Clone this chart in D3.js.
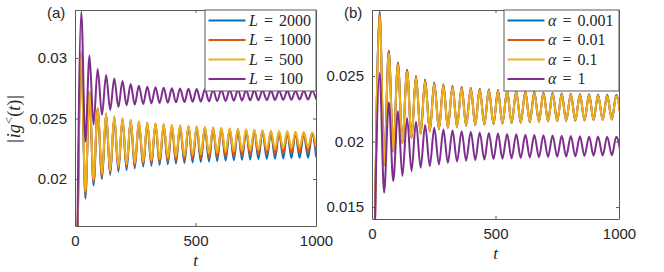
<html>
<head>
<script src="https://d3js.org/d3.v7.min.js"></script>
<style>
  body { margin: 0; background: #fff; }
  .tick text { font-family: "Liberation Sans", Arial, sans-serif; font-size: 15px; fill: #262626; }
  .math { font-family: "Liberation Serif", "DejaVu Serif", serif; fill: #262626; }
</style>
</head>
<body>
<svg id="fig" width="664" height="272"></svg>
<script>
const colors = ["#0072BD", "#D95319", "#EDB120", "#7E2F8E"];

// ---- panel (a): times of the extrema (start, then peak/trough alternating)
const tA = [8, 26, 43, 60, 77, 94, 112, 129, 146, 163, 180, 197, 214, 231, 248, 265, 283, 300, 317, 334,
  351, 368, 385, 402, 419, 436, 454, 471, 488, 505, 522, 539, 556, 573, 590, 607, 625, 642, 659, 676,
  693, 710, 727, 744, 761, 778, 796, 813, 830, 847, 864, 881, 898, 915, 932, 949, 967, 984, 1001];
const aLabels = ["2000", "1000", "500", "100"];
const aStart = [0.010, 0.010, 0.010, 0.012];
const aPeaks = [
  [0.0303, 0.02715, 0.0258, 0.02535, 0.0251, 0.02495, 0.02482, 0.02469, 0.0246, 0.02452, 0.02446, 0.02441, 0.02436, 0.02432, 0.02428,
   0.02424, 0.0242, 0.02416, 0.02412, 0.02408, 0.02404, 0.024, 0.02396, 0.02392, 0.02389, 0.02386, 0.02383, 0.0238, 0.02377],
  [0.0304, 0.0272, 0.02585, 0.0254, 0.02515, 0.025, 0.02486, 0.02473, 0.02464, 0.02456, 0.0245, 0.02445, 0.0244, 0.02436, 0.02432,
   0.02428, 0.02424, 0.0242, 0.02416, 0.02412, 0.02408, 0.02404, 0.024, 0.02396, 0.02393, 0.0239, 0.02387, 0.02384, 0.02381],
  [0.0305, 0.02725, 0.0259, 0.02545, 0.0252, 0.02504, 0.0249, 0.02477, 0.02468, 0.0246, 0.02454, 0.02449, 0.02444, 0.0244, 0.02436,
   0.02432, 0.02428, 0.02424, 0.0242, 0.02416, 0.02412, 0.02408, 0.02404, 0.024, 0.02397, 0.02394, 0.02391, 0.02388, 0.02385],
  [0.0338, 0.0302, 0.0291, 0.0286, 0.0283, 0.0281, 0.02785, 0.0277, 0.02763, 0.02758, 0.02754, 0.0275, 0.02748, 0.02746, 0.02744,
   0.02742, 0.0274, 0.02739, 0.02738, 0.02737, 0.02736, 0.02735, 0.02734, 0.02733, 0.02732, 0.02731, 0.0273, 0.0273, 0.02729]
];
const aTroughs = [
  [0.0184, 0.01948, 0.02, 0.02033, 0.0206, 0.02074, 0.02088, 0.02102, 0.0211, 0.02117, 0.02123, 0.02129, 0.02134, 0.02138, 0.02142,
   0.02146, 0.0215, 0.02153, 0.02156, 0.02159, 0.02162, 0.02164, 0.02166, 0.02168, 0.0217, 0.02172, 0.02174, 0.02176, 0.02178],
  [0.01868, 0.0197, 0.0202, 0.0205, 0.0208, 0.02097, 0.02107, 0.02122, 0.0213, 0.02138, 0.02145, 0.02152, 0.02158, 0.02163, 0.02168,
   0.02173, 0.02178, 0.02182, 0.02186, 0.0219, 0.02194, 0.02197, 0.022, 0.02203, 0.02206, 0.02209, 0.02212, 0.02215, 0.02218],
  [0.01895, 0.0199, 0.0204, 0.0207, 0.021, 0.0212, 0.0213, 0.02143, 0.02155, 0.02165, 0.02175, 0.02183, 0.0219, 0.02197, 0.02204,
   0.0221, 0.02216, 0.02222, 0.02227, 0.02232, 0.02236, 0.0224, 0.02244, 0.02248, 0.02252, 0.02256, 0.0226, 0.02263, 0.02266],
  [0.0231, 0.0245, 0.0253, 0.02573, 0.02595, 0.02609, 0.02615, 0.0262, 0.02625, 0.02628, 0.02631, 0.02634, 0.02636, 0.02638, 0.0264,
   0.02642, 0.02644, 0.02646, 0.02648, 0.0265, 0.02651, 0.02652, 0.02653, 0.02654, 0.02655, 0.02656, 0.02657, 0.02658, 0.02659]
];
const aYTicks = [0.02, 0.025, 0.03];
const aYTickLabels = ["0.02", "0.025", "0.03"];

// ---- panel (b)
const tB = [8, 31, 49, 68, 86, 105, 123, 142, 160, 178, 197, 215, 234, 252, 271, 289, 307, 326, 344, 363,
  381, 400, 418, 436, 455, 473, 492, 510, 528, 547, 565, 584, 602, 621, 639, 657, 676, 694, 713, 731,
  750, 768, 786, 805, 823, 842, 860, 879, 897, 915, 934, 952, 971, 989, 1008];
const bLabels = ["0.001", "0.01", "0.1", "1"];
const bStart = [0.008, 0.008, 0.008, 0.010];
const bPeaks = [
  [0.02992, 0.02692, 0.02602, 0.02547, 0.025, 0.02472, 0.0245, 0.02435, 0.02424, 0.02415, 0.02408, 0.02402, 0.02397, 0.02392,
   0.02388, 0.02384, 0.0238, 0.02377, 0.02374, 0.02371, 0.02368, 0.02365, 0.02362, 0.0236, 0.02358, 0.02356, 0.02354],
  [0.0299, 0.0269, 0.026, 0.02545, 0.02498, 0.0247, 0.02448, 0.02433, 0.02422, 0.02413, 0.02406, 0.024, 0.02395, 0.0239,
   0.02386, 0.02382, 0.02378, 0.02375, 0.02372, 0.02369, 0.02366, 0.02363, 0.0236, 0.02358, 0.02356, 0.02354, 0.02352],
  [0.0296, 0.0267, 0.02585, 0.02532, 0.02486, 0.0246, 0.02439, 0.02424, 0.02414, 0.02405, 0.02398, 0.02392, 0.02387, 0.02383,
   0.02379, 0.02375, 0.02371, 0.02368, 0.02365, 0.02362, 0.0236, 0.02357, 0.02354, 0.02352, 0.0235, 0.02348, 0.02346],
  [0.02523, 0.023, 0.02231, 0.0218, 0.0215, 0.02125, 0.02104, 0.02091, 0.02084, 0.02079, 0.02075, 0.02069, 0.02065, 0.02061,
   0.02058, 0.02055, 0.02052, 0.0205, 0.02048, 0.02046, 0.02044, 0.02042, 0.0204, 0.02039, 0.02038, 0.02037, 0.02036]
];
const bTroughs = [
  [0.01822, 0.01924, 0.01987, 0.02025, 0.02056, 0.02076, 0.02094, 0.02105, 0.02113, 0.0212, 0.02125, 0.02129, 0.02133, 0.02137,
   0.02141, 0.02144, 0.02147, 0.0215, 0.02153, 0.02155, 0.02157, 0.02159, 0.02161, 0.02163, 0.02165, 0.02167, 0.02169],
  [0.01823, 0.01925, 0.01988, 0.02026, 0.02057, 0.02077, 0.02095, 0.02106, 0.02114, 0.02121, 0.02126, 0.0213, 0.02134, 0.02138,
   0.02142, 0.02145, 0.02148, 0.02151, 0.02154, 0.02156, 0.02158, 0.0216, 0.02162, 0.02164, 0.02166, 0.02168, 0.0217],
  [0.01825, 0.01927, 0.0199, 0.02028, 0.02059, 0.02079, 0.02097, 0.02108, 0.02116, 0.02123, 0.02128, 0.02132, 0.02136, 0.0214,
   0.02144, 0.02147, 0.0215, 0.02153, 0.02156, 0.02158, 0.0216, 0.02162, 0.02164, 0.02166, 0.02168, 0.0217, 0.02172],
  [0.0161, 0.01699, 0.01737, 0.01774, 0.018, 0.01813, 0.01825, 0.01838, 0.01848, 0.01853, 0.01858, 0.01862, 0.01866, 0.01869,
   0.01872, 0.01875, 0.01878, 0.0188, 0.01882, 0.01884, 0.01886, 0.01888, 0.0189, 0.01892, 0.01894, 0.01896, 0.01898]
];
const bYTicks = [0.015, 0.02, 0.025];
const bYTickLabels = ["0.015", "0.02", "0.025"];

const xTicks = [0, 500, 1000];

const svg = d3.select("#fig");

// start value, then peak, trough, peak, ...
function assemble(t, start, peaks, troughs) {
  const vals = [start];
  for (let k = 0; k < peaks.length; k++) {
    vals.push(peaks[k]);
    if (k < troughs.length) vals.push(troughs[k]);
  }
  return t.map((tt, i) => [tt, vals[i]]);
}

function drawPanel(p) {
  const g = svg.append("g");
  const x = d3.scaleLinear().domain([0, 1000]).range([p.left, p.right]);
  const y = d3.scaleLinear().domain(p.yDomain).range([p.bottom, p.top]);

  g.append("clipPath").attr("id", "clip" + p.id)
    .append("rect").attr("x", p.left).attr("y", p.top)
    .attr("width", p.right - p.left).attr("height", p.bottom - p.top);

  const line = d3.line()
    .defined(d => d[1] !== undefined)
    .x(d => x(d[0])).y(d => y(d[1]))
    .curve(d3.curveMonotoneX);

  const lines = g.append("g").attr("clip-path", "url(#clip" + p.id + ")");
  for (let s = 0; s < 4; s++) {
    lines.append("path")
      .attr("d", line(assemble(p.t, p.start[s], p.peaks[s], p.troughs[s])))
      .attr("fill", "none")
      .attr("stroke", colors[s])
      .attr("stroke-width", 2);
  }

  // axes with inward ticks, full box
  const axCol = "#5a5a5a";
  const bottomAx = g.append("g").attr("transform", `translate(0,${p.bottom})`)
    .call(d3.axisBottom(x).tickValues(xTicks).tickSizeInner(-3).tickSizeOuter(0).tickPadding(9).tickFormat(d3.format("d")));
  const topAx = g.append("g").attr("transform", `translate(0,${p.top})`)
    .call(d3.axisTop(x).tickValues(xTicks).tickSizeInner(-3).tickSizeOuter(0).tickFormat(""));
  const leftAx = g.append("g").attr("transform", `translate(${p.left},0)`)
    .call(d3.axisLeft(y).tickValues(p.yTicks).tickSizeInner(-3).tickSizeOuter(0).tickPadding(8)
      .tickFormat((d, i) => p.yTickLabels[i]));
  const rightAx = g.append("g").attr("transform", `translate(${p.right},0)`)
    .call(d3.axisRight(y).tickValues(p.yTicks).tickSizeInner(-3).tickSizeOuter(0).tickFormat(""));
  [bottomAx, topAx, leftAx, rightAx].forEach(a => {
    a.select(".domain").attr("stroke", axCol);
    a.selectAll(".tick line").attr("stroke", axCol);
    a.selectAll(".tick text").attr("font-family", null).attr("font-size", null);
  });
  bottomAx.selectAll(".tick text").attr("dy", "0.72em");

  // x label
  g.append("text").attr("class", "math")
    .attr("x", x(500)).attr("y", p.bottom + 40)
    .attr("text-anchor", "middle").attr("font-size", 17).attr("font-style", "italic")
    .text("t");

  // panel label
  g.append("text")
    .attr("x", p.left - 28).attr("y", 18)
    .attr("font-family", "Liberation Sans, Arial, sans-serif").attr("font-size", 15).attr("fill", "#262626")
    .text(p.tag);

  // legend
  const lg = g.append("g");
  lg.append("rect")
    .attr("x", p.legX).attr("y", p.top).attr("width", p.right - p.legX).attr("height", 81)
    .attr("fill", "#fff").attr("stroke", axCol).attr("stroke-width", 1);
  for (let s = 0; s < 4; s++) {
    const ly = p.top + 10.5 + s * 19.5;
    lg.append("line")
      .attr("x1", p.legX + 3.5).attr("x2", p.legX + 40.5).attr("y1", ly).attr("y2", ly)
      .attr("stroke", colors[s]).attr("stroke-width", 2);
    const tx = lg.append("text").attr("class", "math")
      .attr("x", p.legX + 44).attr("y", ly + 5).attr("font-size", 16);
    tx.append("tspan").attr("font-style", "italic").text(p.sym);
    tx.append("tspan").attr("dx", 6).text("=");
    tx.append("tspan").attr("dx", 6).text(p.labels[s]);
  }
}

drawPanel({
  id: "a", tag: "(a)", left: 75, right: 316, top: 10, bottom: 226,
  yDomain: [0.01612, 0.03397], yTicks: aYTicks, yTickLabels: aYTickLabels,
  t: tA, start: aStart, peaks: aPeaks, troughs: aTroughs,
  legX: 205, sym: "L", labels: aLabels
});
drawPanel({
  id: "b", tag: "(b)", left: 372, right: 619, top: 10, bottom: 219,
  yDomain: [0.01409, 0.03003], yTicks: bYTicks, yTickLabels: bYTickLabels,
  t: tB, start: bStart, peaks: bPeaks, troughs: bTroughs,
  legX: 504, sym: "\u03b1", labels: bLabels
});

// y label of panel (a)
const yl = svg.append("text").attr("class", "math")
  .attr("transform", "translate(20,119) rotate(-90)")
  .attr("text-anchor", "middle").attr("font-size", 18);
yl.append("tspan").text("|");
yl.append("tspan").attr("font-style", "italic").attr("dx", 1).text("ig");
yl.append("tspan").attr("dy", -7).attr("font-size", 13).text("<");
yl.append("tspan").attr("dy", 7).text("(");
yl.append("tspan").attr("font-style", "italic").text("t");
yl.append("tspan").text(")");
yl.append("tspan").attr("dx", 1).text("|");
</script>
</body>
</html>
